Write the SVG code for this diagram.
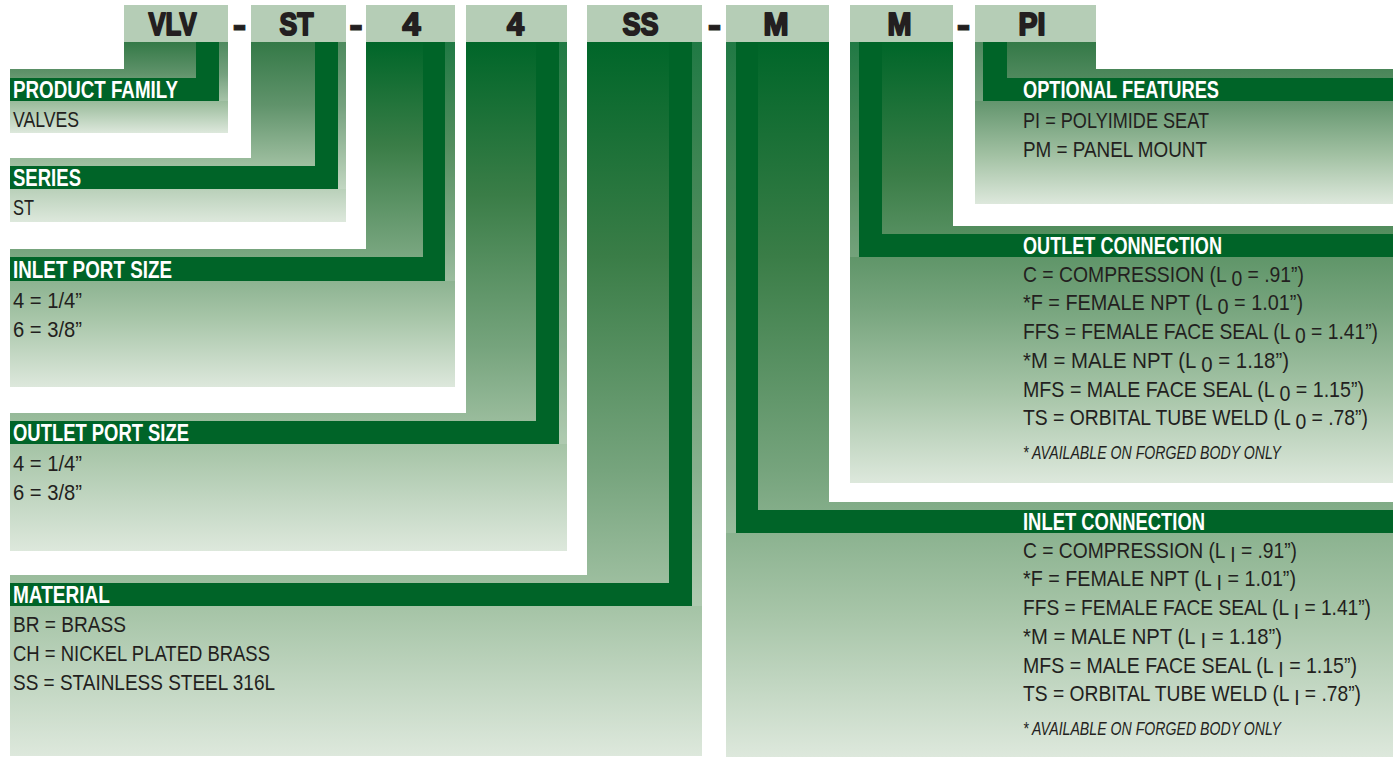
<svg xmlns="http://www.w3.org/2000/svg" width="1398" height="761" viewBox="0 0 1398 761">
<defs>
<linearGradient id="gLong" x1="0" y1="0" x2="0" y2="1">
<stop offset="0" stop-color="#006629"/>
<stop offset="0.3" stop-color="#3a7d47"/>
<stop offset="0.6" stop-color="#76a47d"/>
<stop offset="0.8" stop-color="#a7c5a8"/>
<stop offset="1" stop-color="#dde8dc"/>
</linearGradient>
<linearGradient id="gShort" x1="0" y1="0" x2="0" y2="1">
<stop offset="0" stop-color="#347947"/>
<stop offset="0.35" stop-color="#60936b"/>
<stop offset="0.7" stop-color="#a2c1a3"/>
<stop offset="1" stop-color="#dde8dc"/>
</linearGradient>
<style>
.hdr{fill:#b5cdb6}
.code{font-family:"Liberation Sans",Arial,sans-serif;font-weight:bold;font-size:32px;fill:#231f20;stroke:#231f20;stroke-width:2;stroke-linejoin:round;text-anchor:middle}
.dash{font-family:"Liberation Sans",Arial,sans-serif;font-weight:bold;font-size:40px;fill:#231f20;stroke:#231f20;stroke-width:1;text-anchor:middle}
.bar,.strip{fill:#006428}
.title{font-family:"Liberation Sans",Arial,sans-serif;font-weight:bold;font-size:23px;fill:#ffffff}
.body{font-family:"Liberation Sans",Arial,sans-serif;font-size:21.5px;fill:#231f20}
.foot{font-family:"Liberation Sans",Arial,sans-serif;font-size:18px;font-style:italic;fill:#231f20}
.lite{fill:#ffffff;opacity:0.13}
</style>
</defs>
<rect width="1398" height="761" fill="#ffffff"/>

<g id="node-product-family">
<polygon points="124,42 228,42 228,133 10,133 10,69 124,69" fill="url(#gShort)"/>
<rect class="lite" x="219" y="42" width="9" height="59"/>
<rect class="bar" x="10" y="78" width="209" height="23"/>
<text class="title" x="13" y="98" textLength="165" lengthAdjust="spacingAndGlyphs">PRODUCT FAMILY</text>
<text class="body" x="13" y="127" textLength="66" lengthAdjust="spacingAndGlyphs">VALVES</text>
<rect class="hdr" x="124" y="5" width="104" height="37"/>
<text class="code" x="172.5" y="35" textLength="48" lengthAdjust="spacingAndGlyphs">VLV</text>
</g>

<g id="node-series">
<polygon points="251,42 346,42 346,222 10,222 10,158 251,158" fill="url(#gShort)"/>
<rect class="lite" x="338" y="42" width="8" height="147"/>
<rect class="bar" x="10" y="166" width="328" height="23"/>
<text class="title" x="13" y="186" textLength="68" lengthAdjust="spacingAndGlyphs">SERIES</text>
<text class="body" x="13" y="215" textLength="21" lengthAdjust="spacingAndGlyphs">ST</text>
<rect class="hdr" x="251" y="5" width="95" height="37"/>
<text class="code" x="296.5" y="35" textLength="34" lengthAdjust="spacingAndGlyphs">ST</text>
</g>

<g id="node-inlet-port-size">
<polygon points="366,42 455,42 455,387 10,387 10,249 366,249" fill="url(#gLong)"/>
<rect class="lite" x="445" y="42" width="10" height="239"/>
<rect class="bar" x="10" y="257" width="435" height="24"/>
<text class="title" x="13" y="278" textLength="159" lengthAdjust="spacingAndGlyphs">INLET PORT SIZE</text>
<text class="body" x="13" y="308" textLength="69" lengthAdjust="spacingAndGlyphs">4 = 1/4”</text>
<text class="body" x="13" y="337" textLength="69" lengthAdjust="spacingAndGlyphs">6 = 3/8”</text>
<rect class="hdr" x="366" y="5" width="89" height="37"/>
<text class="code" x="411.5" y="35" textLength="18" lengthAdjust="spacingAndGlyphs">4</text>
</g>

<g id="node-outlet-port-size">
<polygon points="466,42 567,42 567,551 10,551 10,413 466,413" fill="url(#gLong)"/>
<rect class="lite" x="559" y="42" width="8" height="402"/>
<rect class="bar" x="10" y="421" width="549" height="23"/>
<text class="title" x="13" y="441" textLength="176" lengthAdjust="spacingAndGlyphs">OUTLET PORT SIZE</text>
<text class="body" x="13" y="471" textLength="69" lengthAdjust="spacingAndGlyphs">4 = 1/4”</text>
<text class="body" x="13" y="500" textLength="69" lengthAdjust="spacingAndGlyphs">6 = 3/8”</text>
<rect class="hdr" x="466" y="5" width="101" height="37"/>
<text class="code" x="515.5" y="35" textLength="17" lengthAdjust="spacingAndGlyphs">4</text>
</g>

<g id="node-material">
<polygon points="587,42 702,42 702,756 10,756 10,575 587,575" fill="url(#gLong)"/>
<rect class="lite" x="692" y="42" width="10" height="564"/>
<rect class="bar" x="10" y="583" width="682" height="23"/>
<text class="title" x="13" y="603" textLength="97" lengthAdjust="spacingAndGlyphs">MATERIAL</text>
<text class="body" x="13" y="632" textLength="113" lengthAdjust="spacingAndGlyphs">BR = BRASS</text>
<text class="body" x="13" y="661" textLength="257" lengthAdjust="spacingAndGlyphs">CH = NICKEL PLATED BRASS</text>
<text class="body" x="13" y="690" textLength="262" lengthAdjust="spacingAndGlyphs">SS = STAINLESS STEEL 316L</text>
<rect class="hdr" x="587" y="5" width="115" height="37"/>
<text class="code" x="640.5" y="35" textLength="36" lengthAdjust="spacingAndGlyphs">SS</text>
</g>

<g id="node-inlet-connection">
<polygon points="726,42 829,42 829,502 1393,502 1393,757 726,757" fill="url(#gLong)"/>
<rect class="lite" x="726" y="42" width="10" height="491"/>
<rect class="bar" x="736" y="510" width="657" height="23"/>
<text class="title" x="1023" y="530" textLength="182" lengthAdjust="spacingAndGlyphs">INLET CONNECTION</text>
<text class="body" x="1023" y="558" textLength="274" lengthAdjust="spacingAndGlyphs" dy="0 0 0 0 0 0 0 0 0 0 0 0 0 0 0 0 0 0 0 3.8 -3.8">C = COMPRESSION (L I = .91”)</text>
<text class="body" x="1023" y="586" textLength="273" lengthAdjust="spacingAndGlyphs" dy="0 0 0 0 0 0 0 0 0 0 0 0 0 0 0 0 0 0 0 3.8 -3.8">*F = FEMALE NPT (L I = 1.01”)</text>
<text class="body" x="1023" y="615" textLength="348" lengthAdjust="spacingAndGlyphs" dy="0 0 0 0 0 0 0 0 0 0 0 0 0 0 0 0 0 0 0 0 0 0 0 0 0 0 3.8 -3.8">FFS = FEMALE FACE SEAL (L I = 1.41”)</text>
<text class="body" x="1023" y="644" textLength="259" lengthAdjust="spacingAndGlyphs" dy="0 0 0 0 0 0 0 0 0 0 0 0 0 0 0 0 0 3.8 -3.8">*M = MALE NPT (L I = 1.18”)</text>
<text class="body" x="1023" y="673" textLength="334" lengthAdjust="spacingAndGlyphs" dy="0 0 0 0 0 0 0 0 0 0 0 0 0 0 0 0 0 0 0 0 0 0 0 0 3.8 -3.8">MFS = MALE FACE SEAL (L I = 1.15”)</text>
<text class="body" x="1023" y="701" textLength="338" lengthAdjust="spacingAndGlyphs" dy="0 0 0 0 0 0 0 0 0 0 0 0 0 0 0 0 0 0 0 0 0 0 0 0 0 0 3.8 -3.8">TS = ORBITAL TUBE WELD (L I = .78”)</text>
<text class="foot" x="1023" y="735" textLength="258" lengthAdjust="spacingAndGlyphs">* AVAILABLE ON FORGED BODY ONLY</text>
<rect class="hdr" x="726" y="5" width="103" height="37"/>
<text class="code" x="776" y="35" textLength="25" lengthAdjust="spacingAndGlyphs">M</text>
</g>

<g id="node-outlet-connection">
<polygon points="850,42 953,42 953,226 1393,226 1393,483 850,483" fill="url(#gLong)"/>
<rect class="lite" x="850" y="42" width="9" height="215"/>
<rect class="bar" x="859" y="234" width="534" height="23"/>
<text class="title" x="1023" y="254" textLength="199" lengthAdjust="spacingAndGlyphs">OUTLET CONNECTION</text>
<text class="body" x="1023" y="282" textLength="281" lengthAdjust="spacingAndGlyphs" dy="0 0 0 0 0 0 0 0 0 0 0 0 0 0 0 0 0 0 0 3.8 -3.8">C = COMPRESSION (L 0 = .91”)</text>
<text class="body" x="1023" y="310" textLength="280" lengthAdjust="spacingAndGlyphs" dy="0 0 0 0 0 0 0 0 0 0 0 0 0 0 0 0 0 0 0 3.8 -3.8">*F = FEMALE NPT (L 0 = 1.01”)</text>
<text class="body" x="1023" y="339" textLength="355" lengthAdjust="spacingAndGlyphs" dy="0 0 0 0 0 0 0 0 0 0 0 0 0 0 0 0 0 0 0 0 0 0 0 0 0 0 3.8 -3.8">FFS = FEMALE FACE SEAL (L 0 = 1.41”)</text>
<text class="body" x="1023" y="368" textLength="266" lengthAdjust="spacingAndGlyphs" dy="0 0 0 0 0 0 0 0 0 0 0 0 0 0 0 0 0 3.8 -3.8">*M = MALE NPT (L 0 = 1.18”)</text>
<text class="body" x="1023" y="397" textLength="341" lengthAdjust="spacingAndGlyphs" dy="0 0 0 0 0 0 0 0 0 0 0 0 0 0 0 0 0 0 0 0 0 0 0 0 3.8 -3.8">MFS = MALE FACE SEAL (L 0 = 1.15”)</text>
<text class="body" x="1023" y="425" textLength="345" lengthAdjust="spacingAndGlyphs" dy="0 0 0 0 0 0 0 0 0 0 0 0 0 0 0 0 0 0 0 0 0 0 0 0 0 0 3.8 -3.8">TS = ORBITAL TUBE WELD (L 0 = .78”)</text>
<text class="foot" x="1023" y="459" textLength="258" lengthAdjust="spacingAndGlyphs">* AVAILABLE ON FORGED BODY ONLY</text>
<rect class="hdr" x="850" y="5" width="103" height="37"/>
<text class="code" x="899.5" y="35" textLength="24" lengthAdjust="spacingAndGlyphs">M</text>
</g>

<g id="node-optional-features">
<polygon points="975,42 1096,42 1096,69 1393,69 1393,204 975,204" fill="url(#gShort)"/>
<rect class="lite" x="975" y="42" width="8" height="59"/>
<rect class="bar" x="983" y="78" width="410" height="23"/>
<text class="title" x="1023" y="98" textLength="196" lengthAdjust="spacingAndGlyphs">OPTIONAL FEATURES</text>
<text class="body" x="1023" y="128" textLength="186" lengthAdjust="spacingAndGlyphs">PI = POLYIMIDE SEAT</text>
<text class="body" x="1023" y="157" textLength="184" lengthAdjust="spacingAndGlyphs">PM = PANEL MOUNT</text>
<rect class="hdr" x="975" y="5" width="121" height="37"/>
<text class="code" x="1032" y="35" textLength="27" lengthAdjust="spacingAndGlyphs">PI</text>
</g>

<g id="connectors">
<rect class="strip" x="196" y="42" width="23" height="37"/>
<rect class="strip" x="315" y="42" width="23" height="125"/>
<rect class="strip" x="423" y="42" width="22" height="216"/>
<rect class="strip" x="536" y="42" width="23" height="380"/>
<rect class="strip" x="669" y="42" width="23" height="542"/>
<rect class="strip" x="736" y="42" width="22" height="469"/>
<rect class="strip" x="859" y="42" width="23" height="193"/>
<rect class="strip" x="983" y="42" width="24" height="37"/>
</g>

<g id="separators">
<text class="dash" x="239.5" y="38" textLength="14" lengthAdjust="spacingAndGlyphs">-</text>
<text class="dash" x="356" y="38" textLength="14" lengthAdjust="spacingAndGlyphs">-</text>
<text class="dash" x="714.5" y="38" textLength="14" lengthAdjust="spacingAndGlyphs">-</text>
<text class="dash" x="963.5" y="38" textLength="14" lengthAdjust="spacingAndGlyphs">-</text>
</g>
</svg>
